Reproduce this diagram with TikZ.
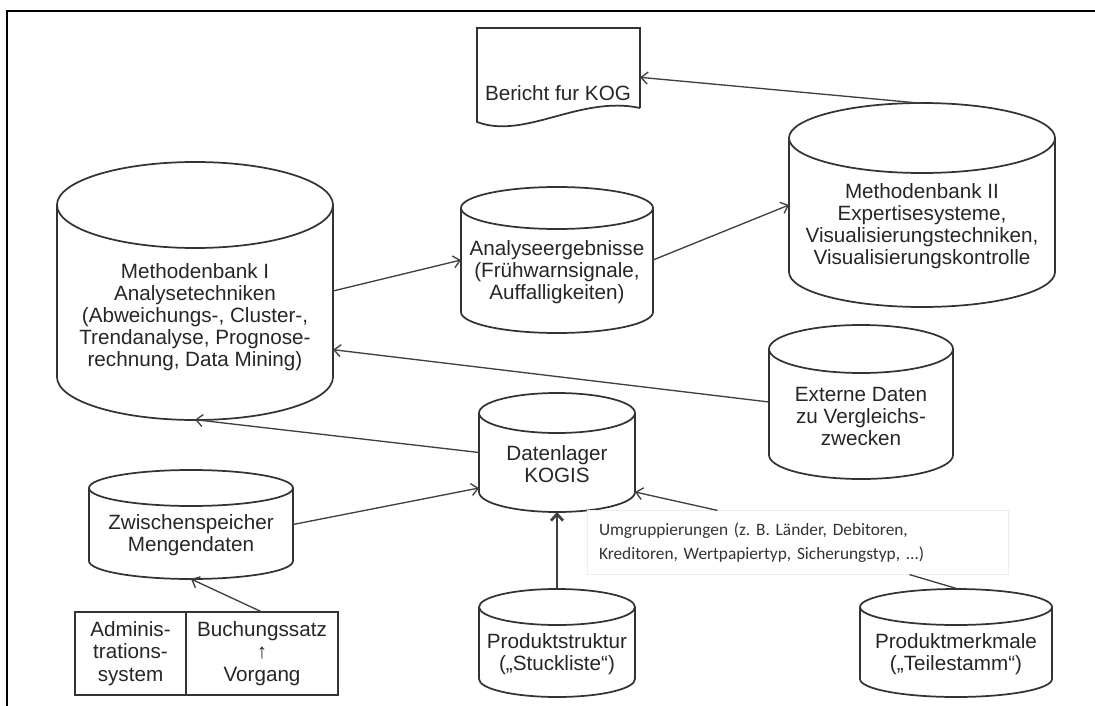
\documentclass[tikz,border=0pt]{standalone}
\usepackage{fontspec}
\setmainfont{Liberation Sans}
\newfontfamily\notefont{Carlito}
\usetikzlibrary{positioning,arrows.meta}
\frenchspacing

\tikzset{
  drum/.style={draw=black!80, line width=1.3pt},
  body/.style={inner sep=0pt, outer sep=0pt},
  drumtext/.style={align=center, text=black!85, font=\fontsize{15.5}{16.5}\selectfont},
  conn/.style={draw=black!75, line width=1pt},
  arr/.style={conn, -{Straight Barb[length=5pt,width=9pt]}},
  cellbox/.style={draw=black!80, line width=1.3pt, outer sep=0pt, inner sep=0pt,
    align=center, text=black!85, font=\fontsize{15.5}{17}\selectfont},
  notebox/.style={draw=black!7, fill=white, inner sep=9pt, text width=297.75pt,
    minimum height=44.25pt, align=left, text=black!80,
    font=\notefont\fontsize{13}{18}\selectfont}
}

% cylinder: name, x, top y, bottom y, x radius, y radius, text
\newcommand{\drumnode}[7]{%
  \node[body, minimum width=1.5*#5, minimum height={0.75*(#4-#3)}] (#1) at (#2,{(#3+#4)/2}) {};
  \draw[drum] (#1.north) ellipse [x radius=#5, y radius=#6];
  \draw[drum] (#1.north west) -- (#1.south west)
    arc [start angle=180, end angle=0, x radius=#5, y radius=#6] -- (#1.north east);
  \node[drumtext] (#1-t) at ([yshift={-0.45*#6}]#1.center) {#7};
}

\begin{document}
\begin{tikzpicture}[x=0.75pt, y=-0.75pt]
\useasboundingbox (0,0) rectangle (1095,706);

\draw[line width=2.2pt] (7,706) -- (7,11) -- (1095,11);

% report
\node[body, minimum width=122.25pt, minimum height=60pt] (ber) at (558.5,68) {};
\draw[drum] (ber.south east) -- (ber.north east) -- (ber.north west)
  -- ([yshift=-10.5pt]ber.south west) .. controls +(48,18) and +(-60,-13) .. (ber.south east);
\node[drumtext] (ber-t) at (558,93) {Bericht fur KOG};

\drumnode{mb1}{195}{205}{377}{138}{43}{Methodenbank I\\Analysetechniken\\(Abweichungs-, Cluster-,\\Trendanalyse, Prognose-\\rechnung, Data Mining)}
\drumnode{ana}{557}{208}{312}{96}{21}{Analyseergebnisse\\(Frühwarnsignale,\\Auffalligkeiten)}
\drumnode{mb2}{922}{138}{272}{133}{35}{Methodenbank II\\Expertisesysteme,\\Visualisierungstechniken,\\Visualisierungskontrolle}
\drumnode{ext}{861}{349}{455}{92}{24}{Externe Daten\\zu Vergleichs-\\zwecken}
\drumnode{dat}{557}{413}{492}{78}{20}{Datenlager\\KOGIS}
\drumnode{zw}{191}{488}{561}{102}{18}{Zwischenspeicher\\Mengendaten}
\drumnode{ps}{557}{607}{679}{78}{18}{Produktstruktur\\(„Stuckliste“)}
\drumnode{pm}{956}{607}{679}{96}{18}{Produktmerkmale\\(„Teilestamm“)}

% source system
\node[cellbox, minimum width=83.25pt, minimum height=62.25pt] (adm) at (130.5,653.5) {Adminis-\\trations-\\system};
\node[cellbox, minimum width=114pt, minimum height=62.25pt, right=0pt of adm] (buch) {Buchungssatz\\↑\\Vorgang};

\node[notebox] (umg) at (797.5,542.5) {Umgruppierungen (z. B. Länder, Debitoren,\\Kreditoren, Wertpapiertyp, Sicherungstyp, ...)};

\draw[arr] (mb1.east) -- (ana.west);
\draw[arr] (ana.east) -- (mb2.west);
\draw[arr] ([yshift=26pt]mb2.north) -- ([yshift=-7pt]ber.east);
\draw[arr] (ext.west) -- ([yshift=-44pt]mb1.east);
\draw[arr] (dat.west) -- ([yshift=-32pt]mb1.south);
\draw[arr] (zw.east) -- ([yshift=3pt]dat.south west);
\draw[arr] (buch.north) -- ([yshift=-13.5pt]zw.south);
\draw[arr, line width=2pt] ([yshift=14pt]ps.north) -- ([yshift=-15pt]dat.south);
\draw[arr] ([xshift=-60pt]umg.north) -- (dat.south east);
\draw[conn] ([yshift=14pt]pm.north) -- ([xshift=84pt]umg.south);

\end{tikzpicture}
\end{document}
